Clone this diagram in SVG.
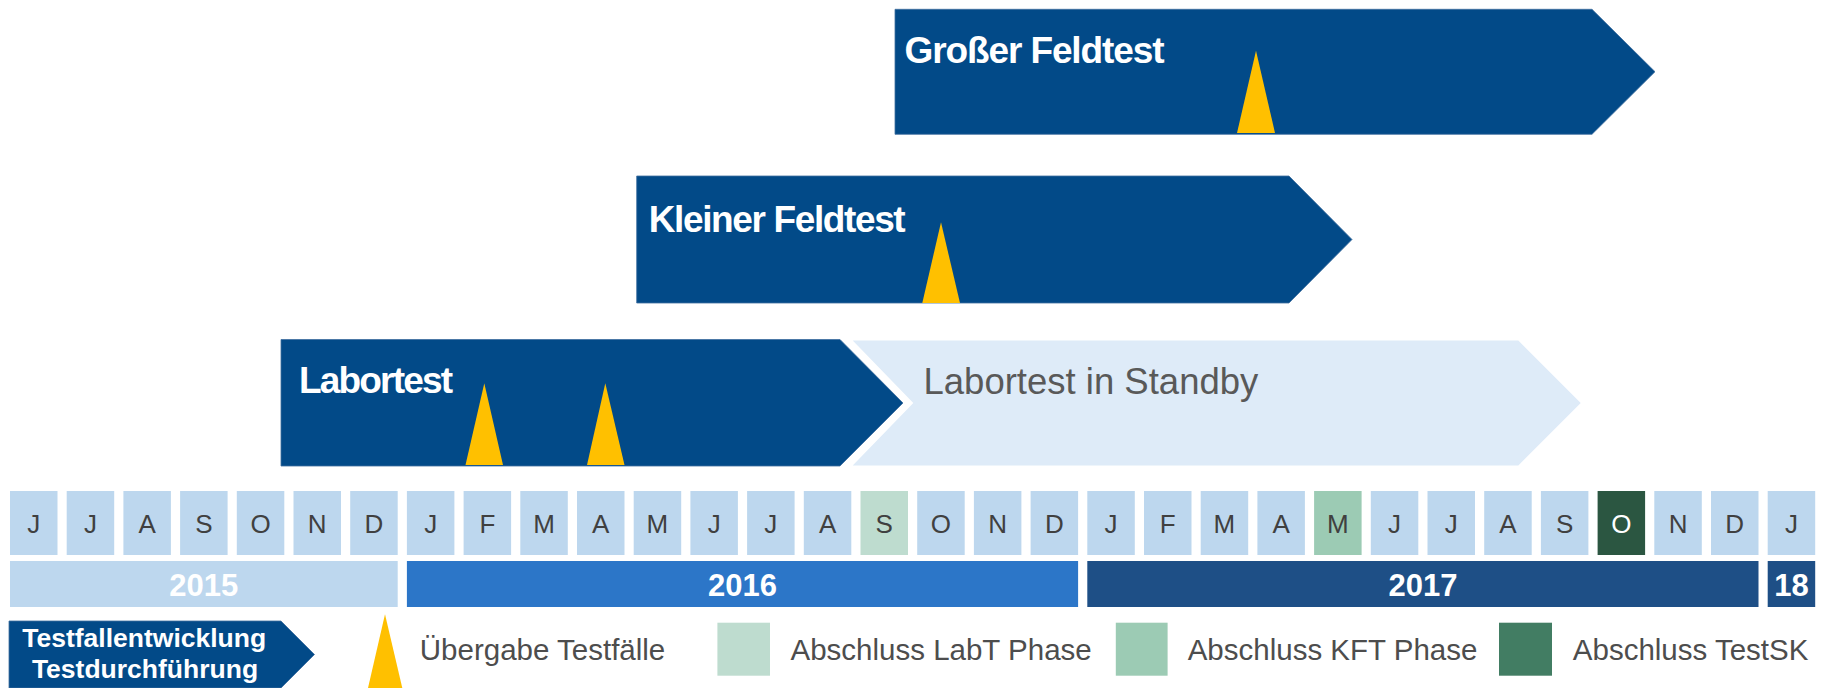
<svg xmlns="http://www.w3.org/2000/svg" width="1830" height="688" viewBox="0 0 1830 688">
<style>
.bar{fill:#024A88;stroke:#3F6FA0;stroke-width:0.8}
.tri{fill:#FFC000}
.title{font-family:"Liberation Sans",Arial,sans-serif;font-weight:bold;font-size:37px;fill:#fff}
.cell{fill:#BDD7EE}
.mon{font-family:"Liberation Sans",Arial,sans-serif;font-size:26px;fill:#404040;text-anchor:middle}
.yr{font-family:"Liberation Sans",Arial,sans-serif;font-weight:bold;font-size:31px;fill:#fff;text-anchor:middle}
.leg{font-family:"Liberation Sans",Arial,sans-serif;font-size:29.5px;fill:#4D4D4D}
</style>
<rect width="1830" height="688" fill="#fff"/>
<g id="grosser-feldtest">
<polygon class="bar" points="895,9.3 1592,9.3 1655,71.7 1592,134.3 895,134.3"/>
<polygon class="tri" points="1256,50.7 1275,133 1237,133"/>
<text class="title" x="904.5" y="63.3" textLength="260" lengthAdjust="spacing">Großer Feldtest</text>
</g>
<g id="kleiner-feldtest">
<polygon class="bar" points="636.7,176 1289,176 1352,239.5 1289,303 636.7,303"/>
<polygon class="tri" points="941,222.3 960,303 922.3,303"/>
<text class="title" x="648.7" y="231.7" textLength="257" lengthAdjust="spacing">Kleiner Feldtest</text>
</g>
<g id="labortest">
<polygon class="bar" points="281,339.5 840,339.5 903,403 840,466 281,466"/>
<polygon class="tri" points="484.3,383.3 503,465 465.5,465"/>
<polygon class="tri" points="605.3,383.3 624.5,465 587,465"/>
<text class="title" x="299" y="392.7" textLength="154" lengthAdjust="spacing">Labortest</text>
</g>
<g id="labortest-standby">
<polygon fill="#DEEBF8" points="852.7,340.5 1518.3,340.5 1580.7,403 1518.3,465.5 852.7,465.5 913.3,403"/>
<text x="923.5" y="393.5" font-family="Liberation Sans, Arial, sans-serif" font-size="36.5" fill="#595959">Labortest in Standby</text>
</g>
<g id="months">
<rect class="cell" x="10" y="491" width="47.5" height="64"/>
<rect class="cell" x="66.7" y="491" width="47.5" height="64"/>
<rect class="cell" x="123.4" y="491" width="47.5" height="64"/>
<rect class="cell" x="180.1" y="491" width="47.5" height="64"/>
<rect class="cell" x="236.8" y="491" width="47.5" height="64"/>
<rect class="cell" x="293.5" y="491" width="47.5" height="64"/>
<rect class="cell" x="350.2" y="491" width="47.5" height="64"/>
<rect class="cell" x="406.9" y="491" width="47.5" height="64"/>
<rect class="cell" x="463.6" y="491" width="47.5" height="64"/>
<rect class="cell" x="520.3" y="491" width="47.5" height="64"/>
<rect class="cell" x="577" y="491" width="47.5" height="64"/>
<rect class="cell" x="633.7" y="491" width="47.5" height="64"/>
<rect class="cell" x="690.4" y="491" width="47.5" height="64"/>
<rect class="cell" x="747.1" y="491" width="47.5" height="64"/>
<rect class="cell" x="803.8" y="491" width="47.5" height="64"/>
<rect x="860.5" y="491" width="47.5" height="64" fill="#BEDCCF"/>
<rect class="cell" x="917.2" y="491" width="47.5" height="64"/>
<rect class="cell" x="973.9" y="491" width="47.5" height="64"/>
<rect class="cell" x="1030.6" y="491" width="47.5" height="64"/>
<rect class="cell" x="1087.3" y="491" width="47.5" height="64"/>
<rect class="cell" x="1144" y="491" width="47.5" height="64"/>
<rect class="cell" x="1200.7" y="491" width="47.5" height="64"/>
<rect class="cell" x="1257.4" y="491" width="47.5" height="64"/>
<rect x="1314.1" y="491" width="47.5" height="64" fill="#9CCBB4"/>
<rect class="cell" x="1370.8" y="491" width="47.5" height="64"/>
<rect class="cell" x="1427.5" y="491" width="47.5" height="64"/>
<rect class="cell" x="1484.2" y="491" width="47.5" height="64"/>
<rect class="cell" x="1540.9" y="491" width="47.5" height="64"/>
<rect x="1597.6" y="491" width="47.5" height="64" fill="#2B5641"/>
<rect class="cell" x="1654.3" y="491" width="47.5" height="64"/>
<rect class="cell" x="1711" y="491" width="47.5" height="64"/>
<rect class="cell" x="1767.7" y="491" width="47.5" height="64"/>
<text class="mon" x="33.75" y="533">J</text>
<text class="mon" x="90.45" y="533">J</text>
<text class="mon" x="147.15" y="533">A</text>
<text class="mon" x="203.85" y="533">S</text>
<text class="mon" x="260.55" y="533">O</text>
<text class="mon" x="317.25" y="533">N</text>
<text class="mon" x="373.95" y="533">D</text>
<text class="mon" x="430.65" y="533">J</text>
<text class="mon" x="487.35" y="533">F</text>
<text class="mon" x="544.05" y="533">M</text>
<text class="mon" x="600.75" y="533">A</text>
<text class="mon" x="657.45" y="533">M</text>
<text class="mon" x="714.15" y="533">J</text>
<text class="mon" x="770.85" y="533">J</text>
<text class="mon" x="827.55" y="533">A</text>
<text class="mon" x="884.25" y="533">S</text>
<text class="mon" x="940.95" y="533">O</text>
<text class="mon" x="997.65" y="533">N</text>
<text class="mon" x="1054.35" y="533">D</text>
<text class="mon" x="1111.05" y="533">J</text>
<text class="mon" x="1167.75" y="533">F</text>
<text class="mon" x="1224.45" y="533">M</text>
<text class="mon" x="1281.15" y="533">A</text>
<text class="mon" x="1337.85" y="533">M</text>
<text class="mon" x="1394.55" y="533">J</text>
<text class="mon" x="1451.25" y="533">J</text>
<text class="mon" x="1507.95" y="533">A</text>
<text class="mon" x="1564.65" y="533">S</text>
<text class="mon" x="1621.35" y="533" style="fill:#fff">O</text>
<text class="mon" x="1678.05" y="533">N</text>
<text class="mon" x="1734.75" y="533">D</text>
<text class="mon" x="1791.45" y="533">J</text>
</g>
<g id="years">
<rect x="10" y="561" width="387.7" height="46" fill="#BDD7EE"/>
<rect x="406.9" y="561" width="671.2" height="46" fill="#2C76C8"/>
<rect x="1087.3" y="561" width="671.2" height="46" fill="#1E4F86"/>
<rect x="1767.7" y="561" width="47.5" height="46" fill="#1E4F86"/>
<text class="yr" x="203.85" y="595.5">2015</text>
<text class="yr" x="742.5" y="595.5">2016</text>
<text class="yr" x="1422.9" y="595.5">2017</text>
<text class="yr" x="1791.45" y="595.5">18</text>
</g>
<g id="legend">
<polygon class="bar" points="9,621 281,621 314.5,654.5 281,688 9,688"/>
<text x="144.2" y="647.3" font-family="Liberation Sans, Arial, sans-serif" font-weight="bold" font-size="26.5" fill="#fff" text-anchor="middle">Testfallentwicklung</text>
<text x="145" y="678.3" font-family="Liberation Sans, Arial, sans-serif" font-weight="bold" font-size="26.5" fill="#fff" text-anchor="middle">Testdurchführung</text>
<polygon class="tri" points="385,614.3 402.3,688 368,688"/>
<text class="leg" x="419.8" y="660">Übergabe Testfälle</text>
<rect x="717.4" y="622.7" width="52.6" height="53" fill="#BEDCCF"/>
<text class="leg" x="790.5" y="660">Abschluss LabT Phase</text>
<rect x="1115.8" y="622.7" width="51.8" height="53" fill="#9CCBB4"/>
<text class="leg" x="1187.7" y="660">Abschluss KFT Phase</text>
<rect x="1499" y="622.7" width="53" height="53" fill="#427D63"/>
<text class="leg" x="1572.8" y="660">Abschluss TestSK</text>
</g>
</svg>
